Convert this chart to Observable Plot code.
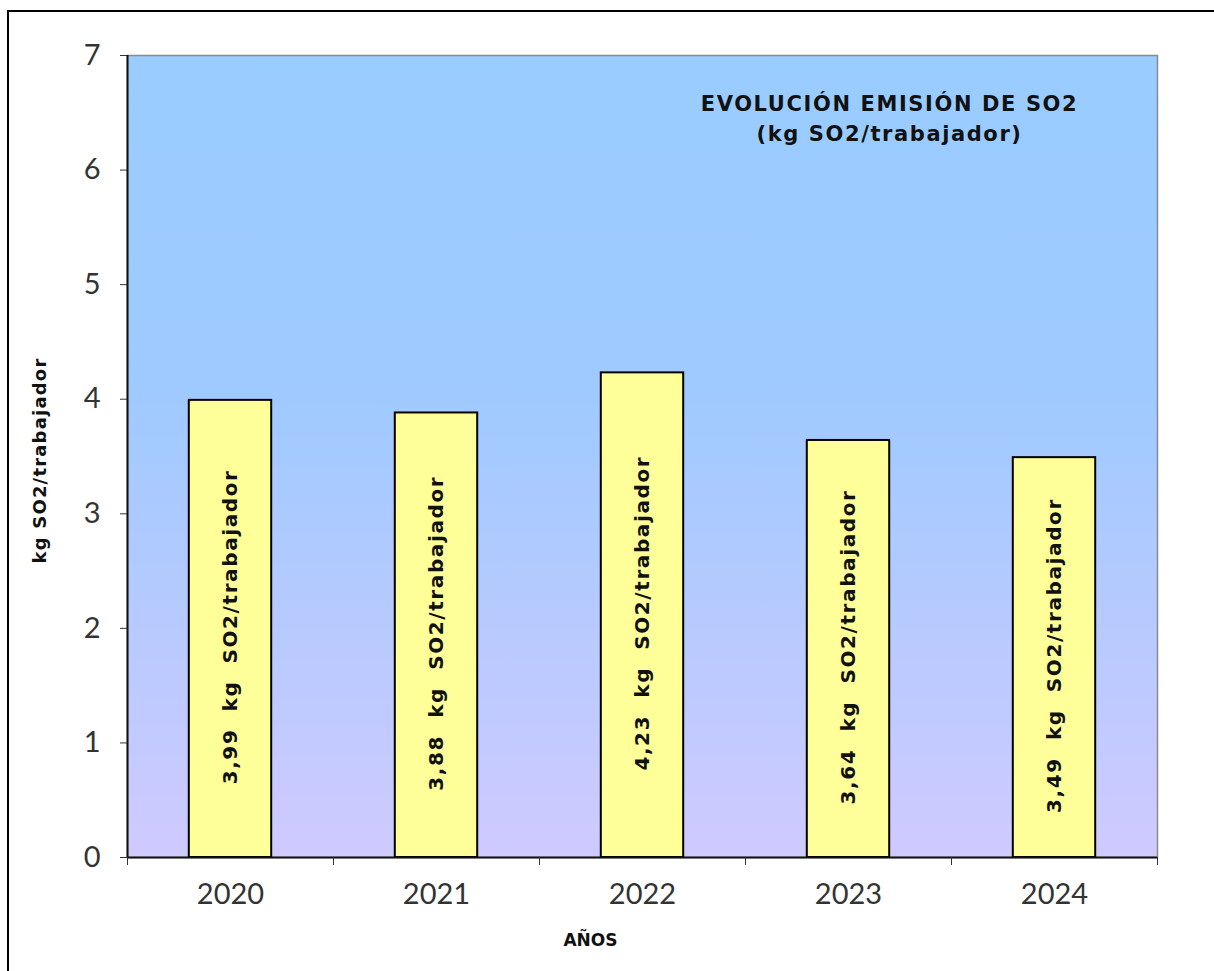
<!DOCTYPE html>
<html>
<head>
<meta charset="utf-8">
<script src="https://cdn.jsdelivr.net/npm/d3@7"></script>
<script src="https://cdn.jsdelivr.net/npm/@observablehq/plot@0.6"></script>
<style>
  html, body { margin: 0; padding: 0; background: #fff; overflow: hidden; }
  #wrap { position: relative; width: 1214px; height: 971px; }
  #chart { position: absolute; left: 0; top: 0; }
  #border { position: absolute; left: 7px; top: 10px; width: 1300px; height: 1100px;
            border-left: 2px solid #000; border-top: 2px solid #000; z-index: 2; pointer-events: none; }
</style>
</head>
<body>
<div id="wrap"><div id="chart"></div><div id="border"></div></div>
<script>
const years = ["2020", "2021", "2022", "2023", "2024"];
const values = [3.99, 3.88, 4.23, 3.64, 3.49];
const yTicks = [0, 1, 2, 3, 4, 5, 6, 7];
const title1 = "EVOLUCIÓN EMISIÓN DE SO2";
const title2 = "(kg SO2/trabajador)";
const xLabel = "AÑOS";
const yLabel = "kg SO2/trabajador";
const unit = "kg  SO2/trabajador";

const data = years.map((year, i) => ({ year, i, value: values[i] }));
const fmt = v => v.toFixed(2).replace(".", ",");

const boldFont = "'DejaVu Sans', sans-serif";

const gradientDefs = () => {
  const defs = d3.create("svg:defs");
  const g = defs.append("linearGradient").attr("id", "bg").attr("x1", 0).attr("y1", 0).attr("x2", 0).attr("y2", 1);
  g.append("stop").attr("offset", "0%").attr("stop-color", "#99CCFF");
  g.append("stop").attr("offset", "42%").attr("stop-color", "#9FCAFF");
  g.append("stop").attr("offset", "100%").attr("stop-color", "#CFCAFF");
  return defs.node();
};

const plot = Plot.plot({
  width: 1214,
  height: 971,
  marginLeft: 127,
  marginRight: 57,
  marginTop: 55,
  marginBottom: 114,
  style: { background: "transparent", fontFamily: "Lato, sans-serif", color: "#333" },
  x: { domain: [0, years.length], axis: null },
  y: { domain: [0, 7], axis: null },
  marks: [
    gradientDefs,
    Plot.frame({ fill: "url(#bg)", stroke: "#8a8a8a", strokeWidth: 1.5 }),
    Plot.rectY(data, { x1: d => d.i + 0.3, x2: d => d.i + 0.7, y: "value", fill: "#FFFF99", stroke: "#000", strokeWidth: 2 }),
    Plot.text(data, {
      x: d => d.i + 0.5, y: d => d.value / 2, dy: -2,
      text: d => `${fmt(d.value)}  ${unit}`,
      rotate: -90, fontSize: 20, fontWeight: "bold", fontFamily: boldFont, fill: "#111"
    }),
    Plot.ruleX([0], { stroke: "#111", strokeWidth: 2 }),
    Plot.ruleY([0], { stroke: "#111", strokeWidth: 2 }),
    Plot.axisY({ ticks: yTicks, label: null, tickSize: 7, tickPadding: 20, fontSize: 29, tickFormat: d => String(d), stroke: "#333", fill: "#333" }),
    Plot.axisX({ ticks: d3.range(years.length + 1), label: null, tickSize: 8, tickFormat: () => "", stroke: "#333" }),
    Plot.axisX({ ticks: data.map(d => d.i + 0.5), label: null, tickSize: 0, tickPadding: 26, fontSize: 29, tickFormat: v => years[Math.floor(v)], fill: "#333" }),
    Plot.text([xLabel], { frameAnchor: "bottom", text: d => d, dx: -52, dy: 88, fontSize: 17, fontWeight: "bold", fontFamily: boldFont, fill: "#111" }),
    Plot.text([yLabel], { frameAnchor: "left", textAnchor: "middle", text: d => d, dx: -87, dy: 4, rotate: -90, fontSize: 18, fontWeight: "bold", fontFamily: boldFont, fill: "#111" }),
    Plot.text([title1], { frameAnchor: "top", text: d => d, dx: 247, dy: 41, fontSize: 21, fontWeight: "bold", fontFamily: boldFont, fill: "#111" }),
    Plot.text([title2], { frameAnchor: "top", text: d => d, dx: 247, dy: 71, fontSize: 21, fontWeight: "bold", fontFamily: boldFont, fill: "#111" })
  ]
});
const spacing = t => {
  if (t.includes(unit)) return "1.6px";
  if (t === title1 || t === title2) return "1.6px";
  if (t === yLabel) return "1.2px";
  return null;
};
d3.select(plot).selectAll("text").each(function () {
  const s = spacing(this.textContent);
  if (s) this.setAttribute("letter-spacing", s);
});
document.getElementById("chart").appendChild(plot);
</script>
</body>
</html>
